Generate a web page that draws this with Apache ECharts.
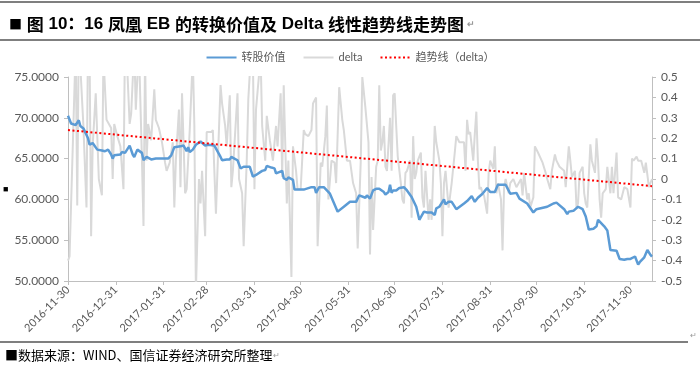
<!DOCTYPE html>
<html><head><meta charset="utf-8">
<script src="https://cdn.jsdelivr.net/npm/echarts@6/dist/echarts.min.js"></script>
<style>html,body{margin:0;padding:0;background:#fff}#c{width:700px;height:368px}</style>
</head><body><div id="c"></div>
<script>
// x positions are calendar days after baseDate
const baseDate = '2016-11-30';
const endDay = 379;
const tickDates = ['2016-11-30','2016-12-31','2017-01-31','2017-02-28','2017-03-31','2017-04-30','2017-05-31','2017-06-30','2017-07-31','2017-08-31','2017-09-30','2017-10-31','2017-11-30'];
const seriesNames = ['转股价值', 'delta', '趋势线（delta）'];

const convDay = [0,2,5,7,8,10,13,14,16,19,22,23,24,26,28,29,30,34,35,37,40,42,43,45,48,49,51,54,57,65,67,69,73,75,77,78,79,81,83,86,87,89,91,95,96,99,100,103,105,106,108,110,112,114,118,120,122,126,128,129,132,134,135,139,140,142,143,146,147,153,158,159,160,161,163,166,167,170,175,179,183,187,189,193,194,196,198,200,202,205,206,208,209,210,211,213,215,218,220,223,226,228,231,233,236,238,239,241,244,245,247,249,252,257,259,262,264,266,269,272,274,277,279,284,287,291,293,298,302,304,311,313,315,316,317,322,324,325,328,331,334,336,338,341,343,344,348,350,351,352,356,358,361,363,365,366,368,370,371,374,376,378,379];
const convValues = [70.25,69.3,69.1,69.7,69.0,68.7,67.5,66.7,66.9,66.1,66.0,66.1,65.9,66.1,65.5,65.0,65.4,65.5,65.8,65.7,66.6,65.5,65.2,66.1,65.7,64.8,65.2,64.9,65.0,65.0,65.4,66.4,66.5,66.6,65.9,66.4,65.8,66.1,66.7,67.1,66.9,66.6,66.7,66.6,66.7,65.2,64.8,64.9,64.9,65.2,65.0,64.8,63.8,64.0,64.0,62.8,63.0,63.5,63.6,64.1,63.9,63.8,63.2,63.5,62.6,62.4,62.7,62.4,61.2,61.2,61.5,61.6,61.5,60.8,61.5,61.5,61.7,60.7,58.5,59.1,59.7,59.7,60.5,60.2,60.5,60.1,61.1,61.3,61.3,60.9,60.6,60.9,61.8,60.8,61.1,61.1,61.4,61.5,61.1,60.3,59.1,57.5,58.5,58.4,58.4,58.1,58.9,59.1,60.0,59.4,59.7,59.7,58.8,59.5,59.8,60.4,59.7,60.2,60.7,61.4,60.9,60.9,61.8,61.8,60.7,60.8,60.1,59.5,58.4,58.8,59.1,59.3,59.5,59.3,59.6,58.8,58.2,58.5,58.6,59.1,58.8,57.9,56.3,56.4,56.7,57.5,56.7,56.2,56.1,53.8,53.7,52.7,52.6,52.7,52.7,52.9,53.0,52.0,52.3,52.9,53.8,53.2,53.0];

const deltaDay = [0,1,5,6,7,10,12,13,14,15,16,18,20,22,23,25,28,29,30,32,34,36,37,38,40,41,43,44,46,48,49,50,51,52,54,56,57,59,61,63,64,66,68,69,70,72,73,74,76,77,79,80,81,82,83,85,86,87,89,90,93,94,96,99,100,102,103,105,106,107,110,111,113,114,116,117,119,120,121,122,125,126,128,129,131,133,135,136,138,139,140,142,143,145,146,148,149,151,153,154,156,158,159,161,162,164,165,167,168,169,171,173,174,176,178,179,181,183,185,187,188,190,191,192,193,194,195,196,197,198,200,201,202,203,204,205,206,207,209,210,211,212,213,214,216,217,218,219,220,222,223,224,225,226,227,229,230,231,232,234,235,236,238,239,240,241,242,243,244,245,247,248,249,251,252,254,257,258,259,260,261,263,264,265,266,267,268,269,270,272,273,274,276,277,278,279,281,282,283,284,286,287,289,291,292,294,295,296,298,299,300,302,303,305,308,310,311,313,314,316,317,319,322,323,325,326,327,329,330,331,332,334,335,336,337,339,340,342,343,344,345,346,347,349,350,352,353,354,356,357,359,361,363,365,366,367,369,370,372,373,374,375,377,379];
const deltaValues = [-0.40,-0.38,0.65,-0.13,0.7,0.26,-0.14,0.7,0.62,-0.28,0.16,0.42,0.0,-0.08,0.6,0.29,0.25,0.0,0.27,0.21,0.16,-0.05,0.7,0.62,0.27,0.32,0.65,0.34,0.65,0.09,-0.23,0.6,0.09,0.27,0.19,0.44,0.29,0.25,0.18,0.08,0.04,0.08,0.18,-0.14,0.09,0.34,-0.04,0.42,-0.07,-0.05,0.24,0.42,0.6,0.26,-0.55,0.0,-0.12,0.04,-0.28,0.23,0.23,0.24,-0.17,0.46,0.37,0.26,0.16,0.41,-0.04,0.04,0.42,0.0,-0.07,-0.33,0.09,0.39,0.65,0.6,-0.05,0.34,0.6,0.26,0.09,0.31,0.19,0.09,0.26,0.16,0.42,0.01,0.46,-0.12,0.09,-0.48,0.16,0.04,-0.05,-0.05,0.24,0.22,0.21,0.24,0.37,0.40,-0.33,0.08,0.06,0.21,0.36,-0.10,0.09,0.08,-0.02,0.45,0.29,0.24,0.09,0.09,-0.02,-0.07,-0.34,0.09,0.50,0.50,0.35,0.35,0.18,-0.37,0.01,-0.25,0.06,0.09,0.46,0.14,0.18,0.26,0.06,0.04,0.30,0.04,0.41,0.42,0.26,0.11,-0.02,-0.10,-0.12,0.03,0.04,0.09,-0.19,0.21,0.00,0.03,0.09,0.13,-0.09,-0.14,0.04,-0.20,-0.10,-0.20,0.26,0.18,0.18,0.09,-0.02,-0.28,-0.02,0.04,-0.14,-0.08,-0.02,0.13,0.21,0.18,0.18,0.04,0.29,0.22,0.23,0.09,0.22,0.33,0.09,-0.05,-0.04,-0.07,-0.08,-0.17,0.03,0.09,0.05,0.16,-0.07,-0.02,-0.10,-0.35,-0.04,0.00,-0.07,-0.02,0.00,-0.04,-0.04,0.00,-0.08,0.03,-0.10,-0.07,-0.14,-0.09,0.16,0.13,0.08,0.03,0.00,-0.05,0.04,0.12,0.09,0.06,0.04,-0.04,0.16,0.09,0.01,0.04,-0.14,-0.12,0.03,0.06,-0.07,-0.12,-0.14,0.17,0.09,0.03,0.20,0.09,-0.10,-0.19,-0.07,-0.05,0.06,-0.07,0.06,-0.07,0.13,-0.09,-0.10,-0.04,-0.05,-0.14,0.10,0.09,0.11,0.09,0.09,0.06,0.03,0.08,-0.04,0.00];

const trendDay = [0, 379];
const trendValues = [0.24, -0.035];

const DAY = 86400000;
function dateToUTC(s) {
  const [y, m, dd] = s.split('-').map(Number);
  return Date.UTC(y, m - 1, dd);
}
const baseUTC = dateToUTC(baseDate);
function dateToDay(s) { return Math.round((dateToUTC(s) - baseUTC) / DAY); }
function pad(n) { return n < 10 ? '0' + n : '' + n; }
function dayToLabel(d) {
  const t = new Date(baseUTC + Math.round(d) * DAY);
  return t.getUTCFullYear() + '-' + pad(t.getUTCMonth() + 1) + '-' + pad(t.getUTCDate());
}
const tickDays = tickDates.map(dateToDay);
const pairs = (days, vals) => days.map((d, i) => [d, vals[i]]);

const labelFont = 'Lato, "Noto Sans CJK SC", sans-serif';
const axisGrey = '#bfbfbf';
const textGrey = '#595959';

const chart = echarts.init(document.getElementById('c'), null, {renderer: 'canvas'});
chart.setOption({
  animation: false,
  backgroundColor: '#ffffff',
  title: {
    text: '{sq|■} {cn|图} {b|10：16} {cn|凤凰} {b|EB} {cn|的转换价值及} {b|Delta} {cn|线性趋势线走势图}{mk| ↵}',
    left: 4, top: 11,
    textStyle: {
      fontSize: 17, color: '#000',
      rich: {
        sq: {fontSize: 13, color: '#000', fontFamily: '"Noto Sans CJK SC"'},
        cn: {fontSize: 17, color: '#000', fontFamily: '"Noto Sans CJK SC"'},
        b: {fontSize: 17, color: '#000', fontWeight: 'bold', fontFamily: '"Liberation Sans", Arial, "Noto Sans CJK SC"'},
        mk: {fontSize: 9, color: '#999'}
      }
    }
  },
  graphic: [
    {type: 'line', shape: {x1: 0, y1: 2, x2: 700, y2: 2}, style: {stroke: '#7f7f7f', lineWidth: 2}},
    {type: 'line', shape: {x1: 0, y1: 40, x2: 700, y2: 40}, style: {stroke: '#7f7f7f', lineWidth: 2}},
    {type: 'line', shape: {x1: 0, y1: 342, x2: 688, y2: 342}, style: {stroke: '#7f7f7f', lineWidth: 2}},
    {type: 'text', left: 690, top: 332, style: {text: '↵', fontSize: 8, fill: '#999'}},
    {type: 'text', left: 3, top: 185, style: {text: '■', fontSize: 9, fill: '#000'}},
    {type: 'text', left: 5, top: 349, style: {
      text: '■数据来源：WIND、国信证券经济研究所整理{mk|↵}',
      fontSize: 13, fill: '#000', fontFamily: '"Noto Sans CJK SC", "Liberation Sans", sans-serif',
      rich: {mk: {fontSize: 8, fill: '#999'}}
    }}
  ],
  legend: {
    data: seriesNames,
    top: 47, left: 'center',
    itemWidth: 30, itemHeight: 10, itemGap: 17,
    itemStyle: {opacity: 0},
    textStyle: {fontSize: 11, color: textGrey, fontFamily: labelFont}
  },
  grid: {left: 68, right: 48, top: 77, bottom: 87, containLabel: false},
  xAxis: {
    type: 'value',
    min: 0, max: endDay,
    axisLine: {show: true, onZero: false, lineStyle: {color: axisGrey, width: 1}},
    axisTick: {show: true, customValues: tickDays, length: 4, lineStyle: {color: axisGrey}},
    axisLabel: {customValues: tickDays, rotate: 45, margin: 7, color: textGrey, fontSize: 11, fontFamily: labelFont, formatter: v => dayToLabel(v)},
    splitLine: {show: false}
  },
  yAxis: [
    {
      type: 'value', min: 50, max: 75, interval: 5, position: 'left',
      axisLine: {show: true, onZero: false, lineStyle: {color: axisGrey}},
      axisTick: {show: true, length: 4, lineStyle: {color: axisGrey}},
      axisLabel: {color: textGrey, fontSize: 12, fontFamily: labelFont, margin: 9, formatter: v => v.toFixed(4)},
      splitLine: {show: false}
    },
    {
      type: 'value', min: -0.5, max: 0.5, interval: 0.1, position: 'right',
      axisLine: {show: true, onZero: false, lineStyle: {color: axisGrey}},
      axisTick: {show: true, length: 4, lineStyle: {color: axisGrey}},
      axisLabel: {color: textGrey, fontSize: 12, fontFamily: labelFont, margin: 9, formatter: v => String(Math.round(v * 10) / 10)},
      splitLine: {show: false}
    }
  ],
  series: [
    {
      name: seriesNames[1], type: 'line', yAxisIndex: 1, symbol: 'none', z: 1,
      data: pairs(deltaDay, deltaValues),
      lineStyle: {color: '#d9d9d9', width: 2}, itemStyle: {color: '#d9d9d9'}
    },
    {
      name: seriesNames[0], type: 'line', yAxisIndex: 0, symbol: 'none', z: 3,
      data: pairs(convDay, convValues),
      lineStyle: {color: '#5b9bd5', width: 2.5}, itemStyle: {color: '#5b9bd5'}
    },
    {
      name: seriesNames[2], type: 'line', yAxisIndex: 1, symbol: 'none', z: 4,
      data: pairs(trendDay, trendValues),
      lineStyle: {color: '#ff0000', width: 2, type: [2, 2.5]}, itemStyle: {color: '#ff0000'}
    }
  ]
});
</script>
</body></html>
